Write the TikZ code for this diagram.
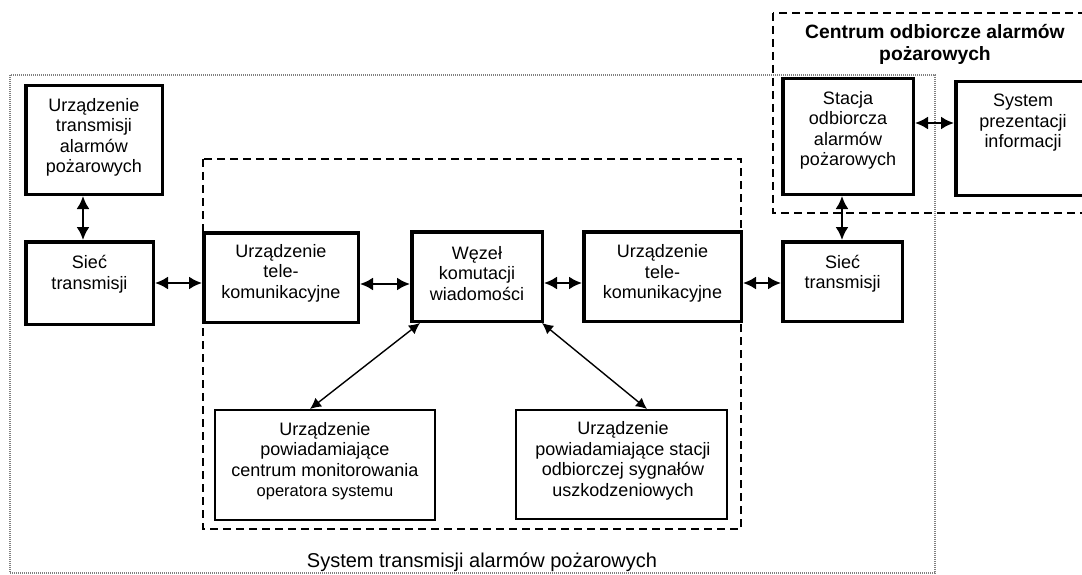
\documentclass[tikz,border=0pt]{standalone}
\usepackage{fontspec}
\setmainfont{Liberation Sans}
\usetikzlibrary{arrows.meta}

\begin{document}
\begin{tikzpicture}[x=1pt,y=-1pt,
  thickbox/.style={draw, line width=3.5pt, rectangle, inner sep=0pt},
  thinbox/.style={draw, line width=2pt, rectangle, inner sep=0pt},
  txt/.style={align=center, inner sep=0pt, font=\fontsize{18}{20.5}\selectfont},
  link/.style={line width=2.2pt, {Latex[length=13pt,width=13pt]}-{Latex[length=13pt,width=13pt]}},
  diag/.style={line width=1.4pt, {Latex[length=11pt,width=11pt]}-{Latex[length=11pt,width=11pt]}},
  grp/.style={draw, line width=1.5pt, dash pattern=on 8pt off 5pt},
  outerdot/.style={draw=gray, line width=1.3pt, dash pattern=on 1pt off 1pt}]

\clip (0,0) rectangle (1082,575);

% group frames
\draw[outerdot] (10,75) rectangle (935,573);
\draw[grp] (203,159) rectangle (741,529);
\draw[grp] (773,13) rectangle (1100,213);

% boxes
\node[thickbox, minimum width=136.5pt, minimum height=108.5pt] (A) at (94,140) {};
\node[thickbox, minimum width=127.5pt, minimum height=82.5pt] (B) at (89.5,283) {};
\node[thickbox, minimum width=154.5pt, minimum height=89.5pt] (C) at (281,277.5) {};
\node[thickbox, minimum width=130.5pt, minimum height=89.5pt] (D) at (477,276.5) {};
\node[thickbox, minimum width=157.5pt, minimum height=89.5pt] (E) at (662.5,276.5) {};
\node[thickbox, minimum width=119.5pt, minimum height=79.5pt] (F) at (842.5,281.5) {};
\node[thickbox, minimum width=130.5pt, minimum height=115.5pt] (G) at (848,136.5) {};
\node[thickbox, minimum width=134.5pt, minimum height=113.5pt] (H) at (1023,138.5) {};
\node[thinbox, minimum width=220pt, minimum height=110pt] (L) at (325,465) {};
\node[thinbox, minimum width=211pt, minimum height=109pt] (R) at (621.5,464.5) {};

% texts
\node[txt] (tA) at (94,137.5) {Urządzenie\\transmisji\\alarmów\\pożarowych};
\node[txt] (tB) at (89.5,274) {Sieć\\transmisji};
\node[txt] (tC) at (281,273) {Urządzenie\\tele-\\komunikacyjne};
\node[txt] (tD) at (477,273.5) {Węzeł\\komutacji\\wiadomości};
\node[txt] (tE) at (662.5,273.5) {Urządzenie\\tele-\\komunikacyjne};
\node[txt] (tF) at (842.5,273.5) {Sieć\\transmisji};
\node[txt] (tG) at (848,130.5) {Stacja\\odbiorcza\\alarmów\\pożarowych};
\node[txt] (tH) at (1023,123) {System\\prezentacji\\informacji};
\node[txt] (tL) at (325,461) {Urządzenie\\powiadamiające\\centrum monitorowania\\{\fontsize{16.5}{20.5}\selectfont operatora systemu}};
\node[txt] (tR) at (623,461) {Urządzenie\\powiadamiające stacji\\odbiorczej sygnałów\\uszkodzeniowych};

\node[align=center, inner sep=0pt, font=\bfseries\fontsize{19.3}{22}\selectfont] (title) at (935,44) {Centrum odbiorcze alarmów\\pożarowych};
\node[inner sep=0pt, font=\fontsize{20}{24}\selectfont] (lbl) at (482,562) {System transmisji alarmów pożarowych};

% connectors
\draw[link] (A.south -| 83,0) -- (B.north -| 83,0);
\draw[link] (B.east |- 0,283) -- (C.west |- 0,283);
\draw[link] (C.east |- 0,284) -- (D.west |- 0,284);
\draw[link] (D.east |- 0,283) -- (E.west |- 0,283);
\draw[link] (E.east |- 0,283) -- (F.west |- 0,283);
\draw[link] (G.east |- 0,123) -- (H.west |- 0,123);
\draw[link] (G.south -| 842,0) -- (F.north -| 842,0);
\draw[diag] ([xshift=10pt]D.south west) -- (L.north -| 310,0);
\draw[diag] ([xshift=-2pt]D.south east) -- (R.north -| 647,0);
\end{tikzpicture}
\end{document}
